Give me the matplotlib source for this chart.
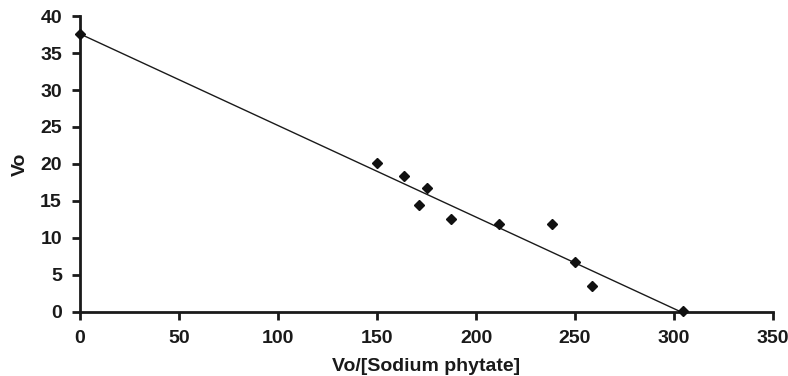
import numpy as np
import matplotlib
matplotlib.use("Agg")
import matplotlib.pyplot as plt

plt.rcParams['font.family'] = ['Liberation Sans', 'DejaVu Sans']

# Eadie-Hofstee data: Vo/[S] vs Vo
vo_over_s = [0, 150, 163.6, 175, 171.4, 187.4, 211.8, 238.4, 250, 258.7, 304.7]
vo = [37.6, 20.1, 18.3, 16.7, 14.4, 12.6, 11.9, 11.9, 6.7, 3.5, 0.1]

# linear fit line: y intercept and x intercept
fit_y0 = 37.6
fit_x0 = 303.3

fig = plt.figure(figsize=(7.88, 3.76), dpi=100)
ax = fig.add_axes([0.1015, 0.171, 0.8795, 0.786])

fit_x = np.array([0, fit_x0])
fit_y = fit_y0 - fit_y0 / fit_x0 * fit_x
ax.plot(fit_x, fit_y, color='#1a1a1a', linewidth=1.0, zorder=2)
ax.plot(vo_over_s, vo, linestyle='none', marker='D', markersize=5.5,
        color='#111111', zorder=3, clip_on=False)

ax.set_xlim(0, 350)
ax.set_ylim(0, 40)
ax.set_xticks(np.arange(0, 351, 50))
ax.set_yticks(np.arange(0, 41, 5))

for side in ['top', 'right']:
    ax.spines[side].set_visible(False)
for side in ['left', 'bottom']:
    ax.spines[side].set_linewidth(2)
    ax.spines[side].set_color('#1a1a1a')

ax.tick_params(direction='out', length=6, width=2, color='#1a1a1a',
               labelsize=14)
ax.tick_params(axis='x', pad=7)
ax.tick_params(axis='y', pad=7)
for lbl in ax.get_xticklabels() + ax.get_yticklabels():
    lbl.set_fontweight('bold')
    lbl.set_color('#1a1a1a')

ax.set_xlabel('Vo/[Sodium phytate]', fontsize=14, fontweight='bold',
              color='#1a1a1a', labelpad=8)
ax.set_ylabel('Vo', fontsize=14, fontweight='bold', color='#1a1a1a',
              labelpad=8)

fig.savefig('out.png', dpi=100)
